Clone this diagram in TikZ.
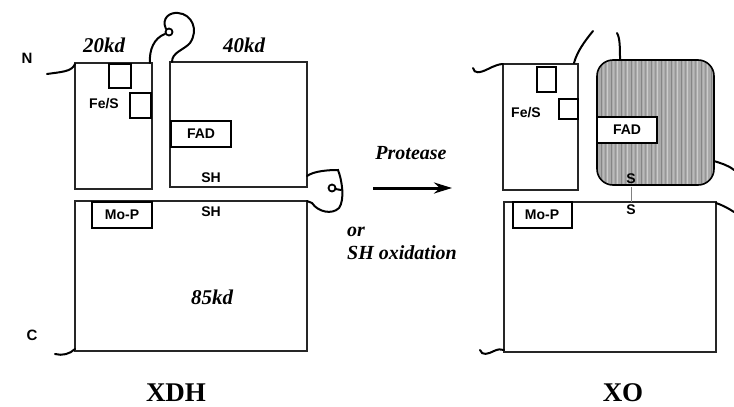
\documentclass[tikz,border=0pt]{standalone}
\usepackage{fontspec}
\setmainfont{Liberation Serif}
\setsansfont{Liberation Sans}
\usetikzlibrary{arrows.meta}
\tikzset{
  dom/.style={draw=black!85, line width=1.1pt},
  site/.style={draw=black, line width=2pt},
  chain/.style={draw=black, line width=2pt, line cap=round},
  lab/.style={font=\sffamily\bfseries\fontsize{14}{14}\selectfont, inner sep=0pt},
  kd/.style={font=\bfseries\itshape\fontsize{21}{21}\selectfont, inner sep=0pt},
  big/.style={font=\bfseries\fontsize{27}{27}\selectfont, inner sep=0pt},
  mid/.style={font=\bfseries\itshape\fontsize{20}{20}\selectfont, inner sep=0pt},
}
\begin{document}
\begin{tikzpicture}[x=1pt,y=-1pt]
\useasboundingbox (0,0) rectangle (734,407);
% ---------- XDH ----------
\draw[dom] (75,63) rectangle (152,189);
\draw[dom] (170,62) rectangle (307,187);
\draw[dom] (75,201) rectangle (307,351);
\draw[site] (109,64) rectangle (131,88);
\draw[site] (130,93) rectangle (151,118);
\draw[site] (171,121) rectangle (231,147);
\draw[site] (92,202) rectangle (152,228);
\node[lab] (fesA) at (104,104) {Fe/S};
\node[lab] (fadA) at (201,134) {FAD};
\node[lab] (shA) at (211,178) {SH};
\node[lab] (shB) at (211,212) {SH};
\node[lab] (mopA) at (122,215) {Mo-P};
\node[kd] (k20) at (104,45) {20kd};
\node[kd] (k40) at (244,45) {40kd};
\node[kd] (k85) at (212,297) {85kd};
\node[lab,font=\sffamily\bfseries\fontsize{15}{15}\selectfont] (nA) at (27,58) {N};
\node[lab,font=\sffamily\bfseries\fontsize{15}{15}\selectfont] (cA) at (32,335) {C};
\node[big] (xdh) at (176,393) {XDH};
% chain ends
\draw[chain] (47,74) .. controls (60,72) and (72,72) .. (75,64);
\draw[chain] (55,354) .. controls (62,356) and (70,354) .. (75,349);
% top loop
\draw[chain] (150,63) .. controls (149,50) and (154,38) .. (165,34);
\draw[line width=1.8pt] (169,32) circle (3.5);
\draw[chain] (166,29) .. controls (161,18) and (170,12) .. (178,13)
  .. controls (192,14) and (199,30) .. (190,43)
  .. controls (184,50) and (172,52) .. (172,62);
% right loop
\draw[chain] (307,176) .. controls (314,171) and (328,170) .. (338,170)
  .. controls (342,180) and (345,200) .. (339,208)
  .. controls (332,215) and (318,212) .. (312,203) -- (307,201);
\draw[line width=1.8pt] (332,188) circle (3.5);
\draw[chain] (335.5,189) -- (341,190);
% ---------- arrow ----------
\coordinate (aS) at (373,188);
\coordinate (aE) at (452,188);
\draw[line width=3pt, -{Stealth[length=18pt,width=11pt]}] (aS) -- (aE);
\node[mid] (prot) at (411,153) {Protease};
\node[mid, anchor=west] (orr) at (347,232) {or};
\node[mid, anchor=west] (shox) at (347,253) {SH oxidation};
% ---------- XO ----------
\draw[dom] (503,64) rectangle (578,190);
\draw[site] (537,67) rectangle (556,92);
\draw[site] (559,99) rectangle (578,119);
\node[lab] (fesB) at (526,113) {Fe/S};
\begin{scope}
  \clip[rounded corners=16pt] (597,60) rectangle (714,185);
  \fill[black!33] (597,60) rectangle (714,185);
  \foreach \i in {0,...,58} {
    \pgfmathsetmacro{\sh}{mod(\i*37,5)*7+20}
    \draw[black!\sh, line width=0.9pt] (597+\i*2,60) -- (597+\i*2,185);
  }
\end{scope}
\draw[line width=1.6pt, rounded corners=16pt] (597,60) rectangle (714,185);
\draw[site, fill=white] (597,117) rectangle (657,143);
\node[lab] (fadB) at (627,130) {FAD};
\draw[dom] (504,202) rectangle (716,352);
\draw[site] (513,202) rectangle (572,228);
\node[lab] (mopB) at (542,215) {Mo-P};
\node[lab] (sA) at (631,179) {S};
\node[lab] (sB) at (631,210) {S};
\draw[gray, line width=0.8pt] ([yshift=-3pt]sA.south) -- ([yshift=3pt]sB.north);
\node[big] (xo) at (623,393) {XO};
% chain ends
\draw[chain] (473,68) .. controls (474,74) and (480,73) .. (488,69) .. controls (494,66) and (499,64) .. (503,64);
\draw[chain] (480,350) .. controls (482,356) and (488,354) .. (494,351) .. controls (498,349) and (501,349) .. (504,350);
\draw[chain] (574,63) .. controls (577,52) and (584,42) .. (593,31);
\draw[chain] (620,60) .. controls (620,48) and (620,38) .. (617,33);
\draw[chain] (714,161) .. controls (720,163) and (728,165) .. (734,170);
\draw[chain] (716,203) .. controls (722,205) and (728,208) .. (734,212);
\end{tikzpicture}
\end{document}
